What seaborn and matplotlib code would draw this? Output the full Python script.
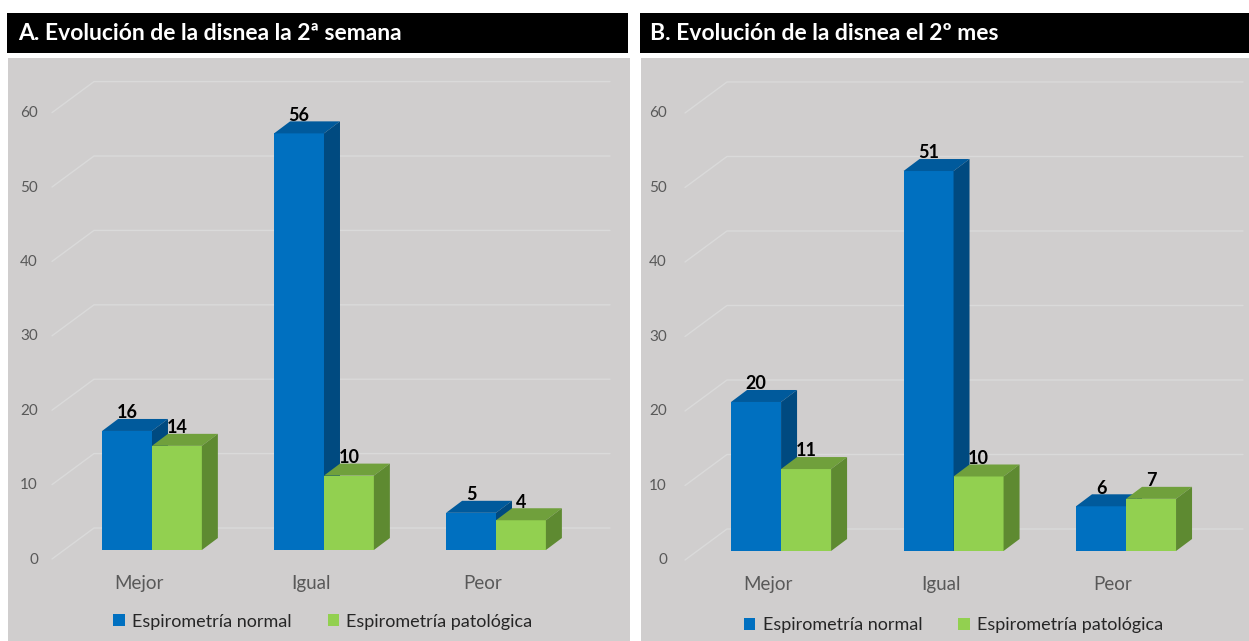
import matplotlib
matplotlib.use("Agg")
import matplotlib.pyplot as plt
import matplotlib.transforms as mtrans
from matplotlib.patches import Polygon, Rectangle
import pandas as pd
import seaborn as sns

# ---- datos ----
categorias = ["Mejor", "Igual", "Peor"]
grupos = ["Espirometría normal", "Espirometría patológica"]
semana2_normal = [16, 56, 5]
semana2_patologica = [14, 10, 4]
mes2_normal = [20, 51, 6]
mes2_patologica = [11, 10, 7]
titulos = ["A. Evolución de la disnea la 2ª semana",
           "B. Evolución de la disnea el 2º mes"]
yticks = [0, 10, 20, 30, 40, 50, 60]

# ---- estilo ----
W, H = 1249, 641
BG = "#D0CECE"
GRID = "#DADADA"
BLUE, BLUE_TOP, BLUE_SIDE = "#0070C0", "#005A9C", "#004A80"
GREEN, GREEN_TOP, GREEN_SIDE = "#92D050", "#70A03C", "#5E8A31"
AXIS_TXT = "#595959"

sns.set_theme(style="white")
plt.rcParams["font.family"] = ["Lato", "DejaVu Sans"]

fig = plt.figure(figsize=(W / 100, H / 100), dpi=100)
fig.patch.set_facecolor("white")


def px_rect(x0, y0, x1, y1):
    return [x0 / W, 1 - y1 / H, (x1 - x0) / W, (y1 - y0) / H]


def draw_panel(ax, normal, patologica, xlim, ylim, ytick_dx, legend_xy):
    df = pd.DataFrame({
        "categoria": categorias * 2,
        "grupo": [grupos[0]] * 3 + [grupos[1]] * 3,
        "valor": normal + patologica,
    })
    sns.barplot(data=df, x="categoria", y="valor", hue="grupo",
                order=categorias, hue_order=grupos,
                palette=[BLUE, GREEN], saturation=1, width=0.58,
                errorbar=None, linewidth=0, ax=ax)
    ax.set_xlim(*xlim)
    ax.set_ylim(*ylim)
    ax.set_facecolor(BG)
    for s in ax.spines.values():
        s.set_visible(False)
    ax.set_xlabel("")
    ax.set_ylabel("")

    wpx, hpx = ax.bbox.width, ax.bbox.height
    ux = wpx / (xlim[1] - xlim[0])
    uy = hpx / (ylim[1] - ylim[0])
    ddx, ddy = 16 / ux, 12 / uy  # profundidad de las barras

    # rejilla en perspectiva (pared del fondo + suelo lateral)
    gx_front, gx_back, gx_end = 44 / wpx, 86 / wpx, 602 / wpx
    for v in yticks:
        ya = (v - ylim[0]) / (ylim[1] - ylim[0])
        yf = ya - 9 / hpx
        yb = ya + 22 / hpx
        ax.plot([gx_front, gx_back, gx_end], [yf, yb, yb],
                transform=ax.transAxes, color=GRID, lw=1.0, zorder=0.5)

    # caras superior y lateral de cada barra
    colores = [(BLUE_TOP, BLUE_SIDE), (GREEN_TOP, GREEN_SIDE)]
    for k, cont in enumerate(ax.containers):
        ctop, cside = colores[k]
        z = 2 + k
        for bar in cont:
            bar.set_zorder(z)
            x0, w, h = bar.get_x(), bar.get_width(), bar.get_height()
            top = [(x0, h), (x0 + w, h), (x0 + w + ddx, h + ddy), (x0 + ddx, h + ddy)]
            side = [(x0 + w, 0), (x0 + w + ddx, ddy), (x0 + w + ddx, h + ddy), (x0 + w, h)]
            ax.add_patch(Polygon(top, closed=True, facecolor=ctop, edgecolor="none", zorder=z))
            ax.add_patch(Polygon(side, closed=True, facecolor=cside, edgecolor="none", zorder=z))
            ax.annotate(f"{h:.0f}", xy=(x0 + w / 2, h), xytext=(0, 13),
                        textcoords="offset points", ha="center", va="center",
                        fontsize=13, fontweight="bold", color="black", zorder=6)

    # ejes
    ax.set_yticks(yticks)
    ax.tick_params(axis="y", length=0, pad=0, labelsize=11, labelcolor=AXIS_TXT)
    off_y = mtrans.ScaledTranslation(ytick_dx / 100, -8 / 100, fig.dpi_scale_trans)
    for lab in ax.get_yticklabels():
        lab.set_transform(lab.get_transform() + off_y)

    ax.spines["bottom"].set_position(("data", 0))
    ax.set_xticks(range(len(categorias)))
    ax.set_xticklabels(categorias)
    ax.tick_params(axis="x", length=0, pad=18, labelsize=13.5, labelcolor=AXIS_TXT)
    off_x = mtrans.ScaledTranslation(-13 / 100, 0, fig.dpi_scale_trans)
    for lab in ax.get_xticklabels():
        lab.set_transform(lab.get_transform() + off_x)

    leg = ax.get_legend()
    handles = leg.legend_handles
    leg.remove()
    ax.legend(handles, grupos, loc="center", bbox_to_anchor=legend_xy, ncol=2,
              frameon=False, handlelength=0.65, handleheight=0.65,
              handletextpad=0.4, columnspacing=2.0, fontsize=13,
              labelcolor="#262626")


axA = fig.add_axes(px_rect(8, 58, 630, 641))
axB = fig.add_axes(px_rect(641, 58, 1249, 641))

draw_panel(axA, semana2_normal, semana2_patologica,
           (-0.837, 2.779), (-12.23, 66.13), 30, (0.506, 0.033))
draw_panel(axB, mes2_normal, mes2_patologica,
           (-0.812, 2.713), (-12.08, 66.17), 26, (0.514, 0.027))

# barras de título
for (x0, x1, tx), titulo in zip([(7, 628, 18), (640, 1249, 650)], titulos):
    fig.add_artist(Rectangle((x0 / W, 1 - 53 / H), (x1 - x0) / W, 40 / H,
                             transform=fig.transFigure, facecolor="black",
                             edgecolor="none"))
    fig.text(tx / W, 1 - 34 / H, titulo, color="white", fontsize=16.5,
             fontweight="bold", va="center", ha="left")

fig.savefig("out.png", dpi=100, facecolor="white")
